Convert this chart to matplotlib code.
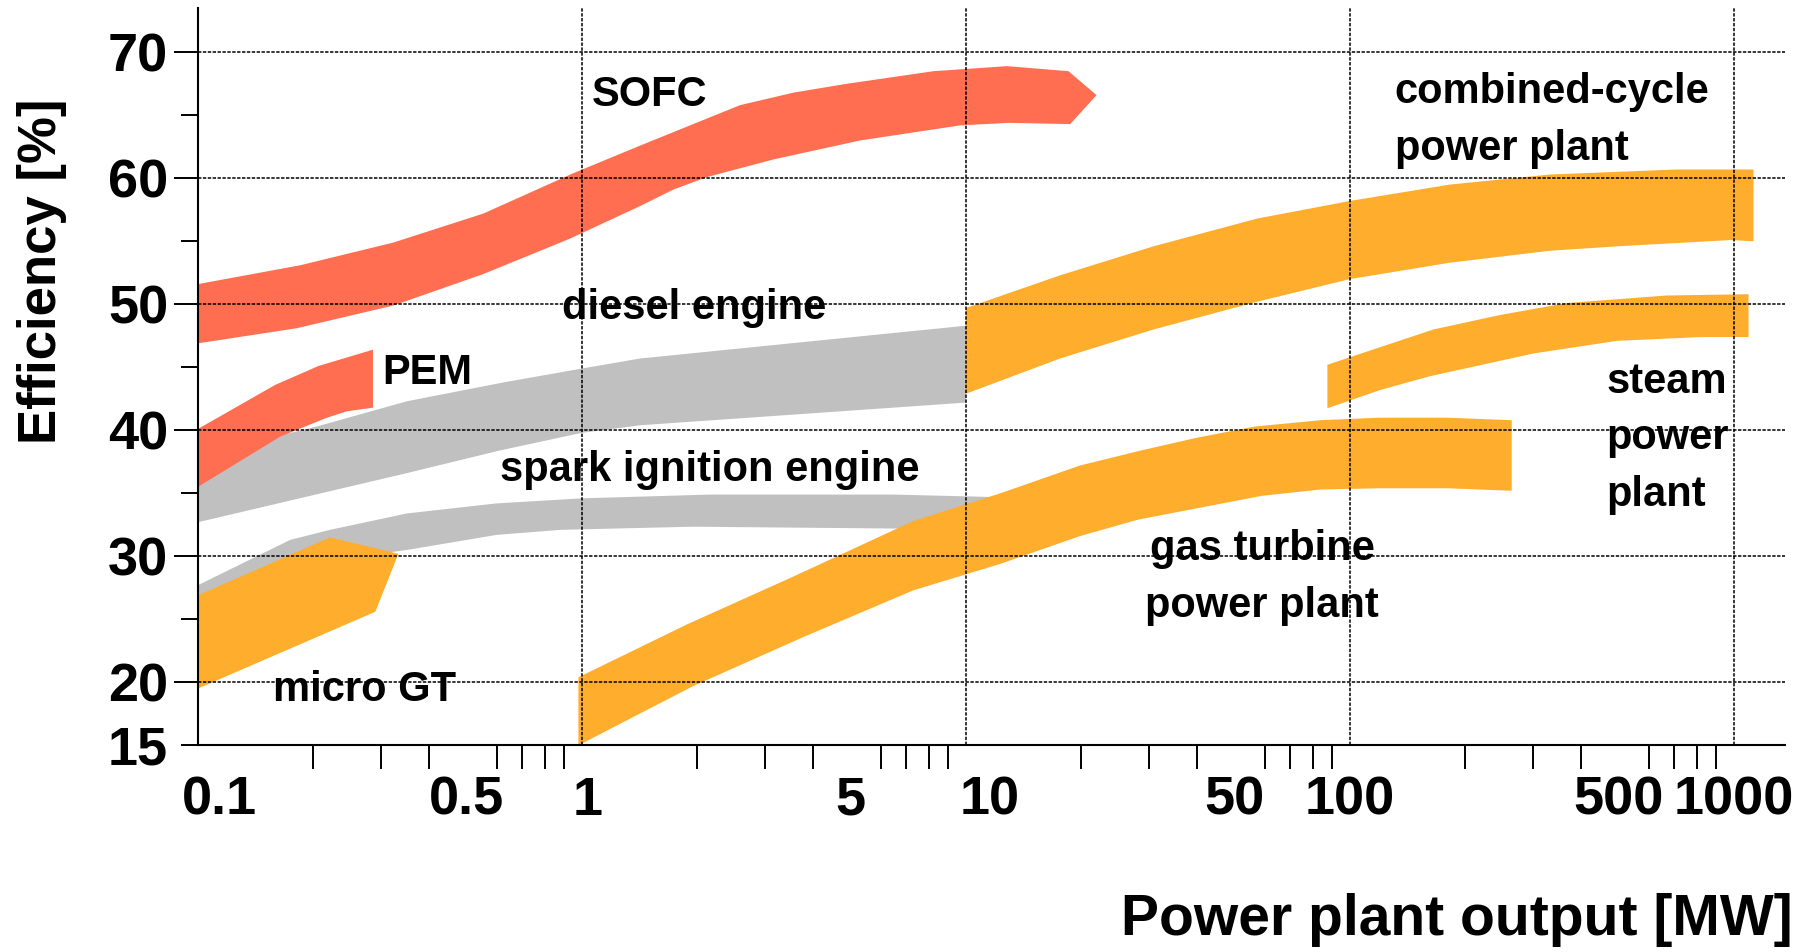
import matplotlib
matplotlib.use("Agg")
import matplotlib.pyplot as plt
from matplotlib.ticker import FixedLocator, FixedFormatter, NullFormatter
from matplotlib.transforms import ScaledTranslation

plt.rcParams["font.family"] = ["Liberation Sans", "DejaVu Sans"]
plt.rcParams["font.weight"] = "bold"

RED = "#ff6e50"
ORANGE = "#ffad2d"
GREY = "#c0c0c0"

# ---- bands: output [MW] vs efficiency [%], upper and lower edges ----
sofc_x_top = [0.1, 0.185, 0.323, 0.554, 0.95, 1.42, 2.58, 3.56, 4.9, 8.24, 12.8, 18.5, 21.9]
sofc_top = [51.6, 53.1, 54.9, 57.2, 60.4, 62.6, 65.8, 66.8, 67.5, 68.5, 68.9, 68.5, 66.6]
sofc_x_bot = [0.1, 0.181, 0.323, 0.554, 0.93, 1.42, 1.73, 2.12, 3.16, 5.3, 9.67, 13.0, 18.7]
sofc_bot = [46.9, 48.1, 49.9, 52.4, 55.2, 57.8, 59.1, 60.1, 61.5, 63.0, 64.2, 64.4, 64.3]

pem_x_top = [0.1, 0.159, 0.206, 0.286]
pem_top = [40.1, 43.6, 45.1, 46.4]
pem_x_bot = [0.1, 0.164, 0.217, 0.244, 0.286]
pem_bot = [35.5, 39.5, 41.0, 41.5, 41.8]

diesel_x_top = [0.1, 0.164, 0.204, 0.35, 0.625, 1.0, 1.42, 10.0]
diesel_top = [37.9, 39.6, 40.3, 42.3, 43.8, 44.9, 45.7, 48.3]
diesel_x_bot = [0.1, 0.35, 0.612, 1.0, 1.42, 10.0]
diesel_bot = [32.7, 36.6, 38.4, 39.8, 40.4, 42.2]

spark_x_top = [0.1, 0.124, 0.174, 0.221, 0.35, 0.6, 1.0, 2.16, 6.48, 12.0]
spark_top = [27.7, 29.1, 31.3, 32.1, 33.4, 34.2, 34.6, 34.9, 34.9, 34.7]
spark_x_bot = [0.1, 0.14, 0.2, 0.35, 0.6, 0.88, 1.95, 6.75, 12.0]
spark_bot = [26.9, 28.3, 29.5, 30.5, 31.7, 32.1, 32.35, 32.2, 32.1]

# micro gas turbine outline
mgt_x = [0.1, 0.221, 0.333, 0.29, 0.1]
mgt_y = [26.9, 31.5, 30.2, 25.6, 19.5]

gt_x_top = [0.98, 1.88, 3.56, 7.3, 12.3, 19.8, 28.6, 39.8, 56.6, 83.8, 119, 180, 264]
gt_top = [20.4, 24.6, 28.4, 32.8, 35.0, 37.2, 38.4, 39.4, 40.3, 40.8, 41.0, 41.0, 40.8]
gt_x_bot = [0.98, 1.95, 3.78, 7.3, 12.3, 19.8, 28, 39.8, 59, 83.8, 119, 180, 264]
gt_bot = [15.0, 19.7, 23.6, 27.3, 29.4, 31.6, 32.9, 33.8, 34.8, 35.3, 35.4, 35.4, 35.2]

cc_x_top = [10, 17.6, 30.8, 57.3, 100, 182, 332, 711, 1125]
cc_top = [49.7, 52.3, 54.6, 56.8, 58.2, 59.5, 60.3, 60.7, 60.7]
cc_x_bot = [10, 17.6, 30.8, 57.3, 100, 182, 332, 496, 980, 1125]
cc_bot = [42.9, 45.7, 48.0, 50.2, 52.0, 53.3, 54.25, 54.6, 55.1, 55.0]

steam_x_top = [87.4, 120, 165, 246, 367, 669, 1092]
steam_top = [45.2, 46.6, 48.0, 49.15, 50.1, 50.7, 50.8]
steam_x_bot = [87.4, 120, 162, 301, 496, 817, 1092]
steam_bot = [41.75, 43.2, 44.3, 46.1, 47.1, 47.4, 47.4]

# ---- axes ticks ----
x_major = [0.1, 0.5, 1, 5, 10, 50, 100, 500, 1000]
x_labels = ["0.1", "0.5", "1", "5", "10", "50", "100", "500", "1000"]
decades = [1, 10, 100, 1000]
y_major = [20, 30, 40, 50, 60, 70]
y_minor = [15, 25, 35, 45, 55, 65]


def band(ax, x_top, y_top, x_bot, y_bot, color):
    # closed outline: upper edge left->right, lower edge right->left
    xs = list(x_top) + list(x_bot)[::-1]
    ys = list(y_top) + list(y_bot)[::-1]
    ax.fill(xs, ys, color=color, lw=0, zorder=1)


def main():
    fig = plt.figure(figsize=(18.16, 9.52), dpi=100)
    ax = fig.add_axes([0.1089, 0.2171, 0.8741, 0.7743])
    ax.set_xscale("log")
    ax.set_xlim(0.1, 1360)
    ax.set_ylim(15, 73.5)

    band(ax, diesel_x_top, diesel_top, diesel_x_bot, diesel_bot, GREY)
    band(ax, spark_x_top, spark_top, spark_x_bot, spark_bot, GREY)
    band(ax, pem_x_top, pem_top, pem_x_bot, pem_bot, RED)
    band(ax, sofc_x_top, sofc_top, sofc_x_bot, sofc_bot, RED)
    ax.fill(mgt_x, mgt_y, color=ORANGE, lw=0, zorder=1)
    band(ax, gt_x_top, gt_top, gt_x_bot, gt_bot, ORANGE)
    band(ax, cc_x_top, cc_top, cc_x_bot, cc_bot, ORANGE)
    band(ax, steam_x_top, steam_top, steam_x_bot, steam_bot, ORANGE)

    dots = (0, (2.2, 1.0))
    ax.set_axisbelow(False)
    ax.grid(axis="y", which="major", color="k", ls=dots, lw=1.1)
    for d in decades:
        ax.axvline(d, color="k", ls=dots, lw=1.1, zorder=2.5)

    # ticks
    minor_x = [d * k for d in [0.1, 1, 10, 100] for k in range(2, 10)]
    ax.xaxis.set_major_locator(FixedLocator(x_major))
    ax.xaxis.set_major_formatter(FixedFormatter(x_labels))
    ax.xaxis.set_minor_locator(FixedLocator(minor_x))
    ax.xaxis.set_minor_formatter(NullFormatter())
    ax.tick_params(axis="x", which="major", length=0, pad=22, labelsize=39)
    ax.tick_params(axis="x", which="minor", length=17.3, width=1.4, direction="out")

    ax.yaxis.set_major_locator(FixedLocator(y_major))
    ax.yaxis.set_minor_locator(FixedLocator(y_minor))
    ax.yaxis.set_minor_formatter(FixedFormatter(["15", "", "", "", "", ""]))
    ax.tick_params(axis="y", which="major", length=17.3, width=1.4, pad=4, labelsize=39)
    ax.tick_params(axis="y", which="minor", length=11.9, width=1.4, pad=9.5, labelsize=39)

    # some x labels sit a bit right of their tick in the original
    shift = {"0.1": 22, "1": 6, "10": 24}
    for lbl in ax.get_xticklabels():
        dx = shift.get(lbl.get_text(), 0)
        if dx:
            lbl.set_transform(lbl.get_transform() + ScaledTranslation(dx / 100, 0, fig.dpi_scale_trans))

    for s in ["top", "right"]:
        ax.spines[s].set_visible(False)
    for s in ["left", "bottom"]:
        ax.spines[s].set_linewidth(1.5)

    # annotations
    fs = 30
    ls = 1.54
    ax.text(1.064, 66.6, "SOFC", fontsize=fs, va="center", ha="left")
    ax.text(131, 64.6, "combined-cycle\npower plant", fontsize=fs, va="center", ha="left", linespacing=ls)
    ax.text(0.886, 49.7, "diesel engine", fontsize=fs, va="center", ha="left")
    ax.text(0.302, 44.55, "PEM", fontsize=fs, va="center", ha="left")
    ax.text(0.613, 36.85, "spark ignition engine", fontsize=fs, va="center", ha="left")
    ax.text(0.157, 19.4, "micro GT", fontsize=fs, va="center", ha="left")
    ax.text(59.1, 28.3, "gas turbine\npower plant", fontsize=fs, va="center", ha="center",
            multialignment="center", linespacing=ls)
    ax.text(465, 39.35, "steam\npower\nplant", fontsize=fs, va="center", ha="left", linespacing=ls)

    fig.text(1793 / 1816, 1 - 920 / 952, "Power plant output [MW]", fontsize=41, ha="right", va="center")
    fig.text(41.7 / 1816, 1 - 271 / 952, "Efficiency [%]", fontsize=38, rotation=90, ha="center", va="center")

    fig.savefig("out.png", dpi=100)


if __name__ == "__main__":
    main()
